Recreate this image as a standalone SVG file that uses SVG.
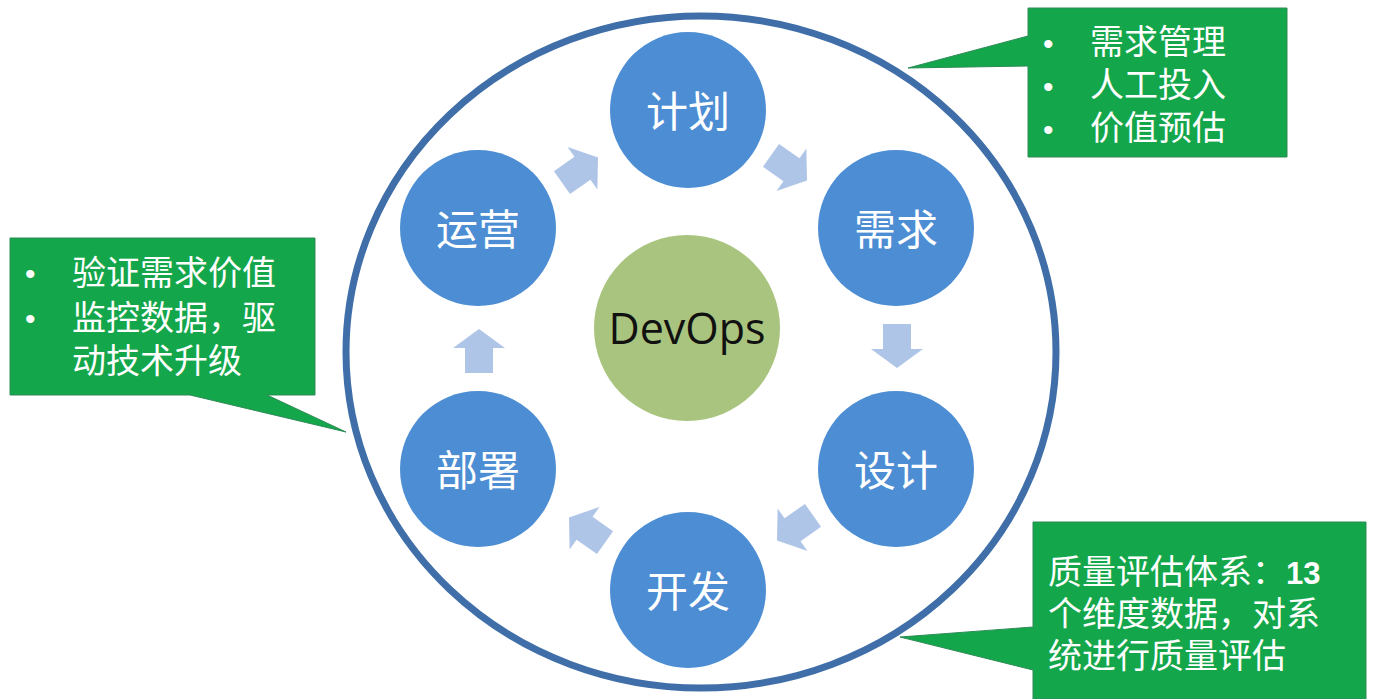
<svg xmlns="http://www.w3.org/2000/svg" width="1379" height="699" viewBox="0 0 1379 699">
<defs>
<style>
.node{fill:#4c8dd3}
.lbl{fill:#fff;font-family:"Noto Sans CJK SC",sans-serif;font-size:42px;text-anchor:middle;dominant-baseline:central}
.call{fill:#14a64b;stroke:#2e8b57;stroke-width:1}
.ct{fill:#fff;font-family:"Noto Sans CJK SC",sans-serif;font-size:34px}
.bl{fill:#fff;font-family:"Liberation Sans",sans-serif;font-size:30px}
.arr{fill:#a6bfe6;opacity:0.9}
</style>
<path id="ar" d="M0,-22 L26,-3 L14,-3 L14,22 L-14,22 L-14,-3 L-26,-3 Z"/>
</defs>
<rect width="1379" height="699" fill="#fff"/>
<g id="ring">
<ellipse cx="701" cy="352" rx="355" ry="336" fill="none" stroke="#3f6ea9" stroke-width="7"/>
</g>
<g id="connectors">
<use href="#ar" class="arr" transform="translate(580,170) rotate(55)"/>
<use href="#ar" class="arr" transform="translate(789,168) rotate(125)"/>
<use href="#ar" class="arr" transform="translate(897,346) rotate(180)"/>
<use href="#ar" class="arr" transform="translate(795,528) rotate(235)"/>
<use href="#ar" class="arr" transform="translate(587,530) rotate(305)"/>
<use href="#ar" class="arr" transform="translate(479,351)"/>
</g>
<g id="plan"><circle class="node" cx="688" cy="110" r="78"/><text class="lbl" x="688" y="108">计划</text></g>
<g id="req"><circle class="node" cx="896" cy="228" r="78"/><text class="lbl" x="896" y="226">需求</text></g>
<g id="design"><circle class="node" cx="896" cy="469" r="78"/><text class="lbl" x="896" y="467">设计</text></g>
<g id="dev"><circle class="node" cx="688" cy="590" r="78"/><text class="lbl" x="688" y="588">开发</text></g>
<g id="deploy"><circle class="node" cx="478" cy="469" r="78"/><text class="lbl" x="478" y="467">部署</text></g>
<g id="ops"><circle class="node" cx="478" cy="228" r="78"/><text class="lbl" x="478" y="226">运营</text></g>
<g id="devops"><circle cx="687" cy="328" r="93" fill="#a9c47e"/><text x="687" y="327" font-family="'Open Sans','Liberation Sans',sans-serif" font-size="43" text-anchor="middle" dominant-baseline="central" fill="#111">DevOps</text></g>
<g id="callout-plan">
<path class="call" d="M1028,8 H1287 V157 H1028 V66 L908,68 L1028,36 Z"/>
<text class="bl" x="1043" y="54">•</text>
<text class="bl" x="1043" y="97">•</text>
<text class="bl" x="1043" y="140">•</text>
<text class="ct" x="1090" y="54">需求管理</text>
<text class="ct" x="1090" y="97">人工投入</text>
<text class="ct" x="1090" y="140">价值预估</text>
</g>
<g id="callout-ops">
<path class="call" d="M10,238 H315 V395 H267 L346,432 L190,395 H10 Z"/>
<text class="bl" x="25" y="284">•</text>
<text class="bl" x="25" y="329">•</text>
<text class="ct" x="72" y="285">验证需求价值</text>
<text class="ct" x="72" y="330">监控数据，驱</text>
<text class="ct" x="72" y="373">动技术升级</text>
</g>
<g id="callout-quality">
<path class="call" d="M1033,522 H1366 V699 H1033 V670 L900,637 L1033,627 Z"/>
<text class="ct" x="1048" y="584" font-size="35">质量评估体系：<tspan font-family="'Liberation Sans',sans-serif" font-weight="bold" font-size="31">13</tspan></text>
<text class="ct" x="1048" y="626" font-size="35">个维度数据，对系</text>
<text class="ct" x="1048" y="668" font-size="35">统进行质量评估</text>
</g>
</svg>
